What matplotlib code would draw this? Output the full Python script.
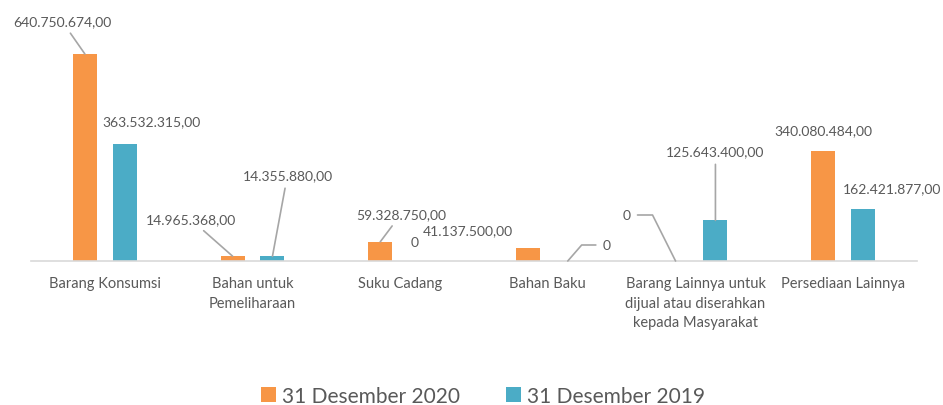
import matplotlib
matplotlib.use("Agg")
import matplotlib.pyplot as plt
import numpy as np

categories = ["Barang Konsumsi", "Bahan untuk\nPemeliharaan", "Suku Cadang", "Bahan Baku",
              "Barang Lainnya untuk\ndijual atau diserahkan\nkepada Masyarakat", "Persediaan Lainnya"]
s2020 = [640750674.00, 14965368.00, 59328750.00, 41137500.00, 0, 340080484.00]
s2019 = [363532315.00, 14355880.00, 0, 0, 125643400.00, 162421877.00]
series_names = ["31 Desember 2020", "31 Desember 2019"]
colors = ["#F79646", "#4BACC6"]

# label offsets (pixels) relative to bar top, and leader-line connection style (None = no line)
off2020 = [(-23, 33, "arc3"), (-42, 37, "arc3"), (21, 28, "arc3"), (-60, 18, None),
           (-49, 46, "angle,angleA=0,angleB=116.6,rad=0"), (0, 21, None)]
off2019 = [(27, 22, None), (15, 81, "arc3"), (-5, 19, None),
           (39, 16, "angle,angleA=0,angleB=49,rad=0"), (0, 69, "arc3"), (29, 20, None)]

def fmt(v):
    if v == 0:
        return "0"
    s = f"{v:,.2f}"
    return s.replace(",", "X").replace(".", ",").replace("X", ".")

plt.rcParams['font.family'] = ['Lato', 'DejaVu Sans']
fig = plt.figure(figsize=(9.43, 4.06), dpi=100)
ax = fig.add_axes([31/943, 1-262/406, (917-31)/943, 262/406])

x = np.arange(len(categories))
w = 0.162
d = 0.135
b1 = ax.bar(x - d, s2020, w, color=colors[0], label=series_names[0])
b2 = ax.bar(x + d, s2019, w, color=colors[1], label=series_names[1])
ax.set_xlim(-0.5, len(categories) - 0.5)
ax.set_ylim(0, 640750674.0 * 262 / 207)

txtc = "#595959"
for bars, vals, offs in ((b1, s2020, off2020), (b2, s2019, off2019)):
    for bar, v, (dx, dy, cs) in zip(bars, vals, offs):
        xc = bar.get_x() + bar.get_width() / 2
        ap = None
        if cs is not None:
            ap = dict(arrowstyle="-", color="#A6A6A6", lw=1.2, shrinkA=3, shrinkB=0,
                      connectionstyle=cs)
        ax.annotate(fmt(v), xy=(xc, v), xytext=(dx, dy), textcoords="offset pixels",
                    ha="center", va="center", fontsize=10, color=txtc, arrowprops=ap)

for s in ["top", "right", "left"]:
    ax.spines[s].set_visible(False)
ax.spines["bottom"].set_color("#D9D9D9")
ax.spines["bottom"].set_linewidth(1.2)
ax.set_yticks([])
ax.set_xticks(x)
ax.set_xticklabels(categories, fontsize=10.5, color=txtc, linespacing=1.5)
ax.tick_params(axis="x", length=0, pad=11)

fig.legend(handles=[b1, b2], loc="center", bbox_to_anchor=(483/943, 1-397/406), ncol=2,
           frameon=False, fontsize=15, labelcolor=txtc, handlelength=0.7, handleheight=0.7,
           handletextpad=0.3, columnspacing=2.2)

fig.savefig("out.png", dpi=100)
